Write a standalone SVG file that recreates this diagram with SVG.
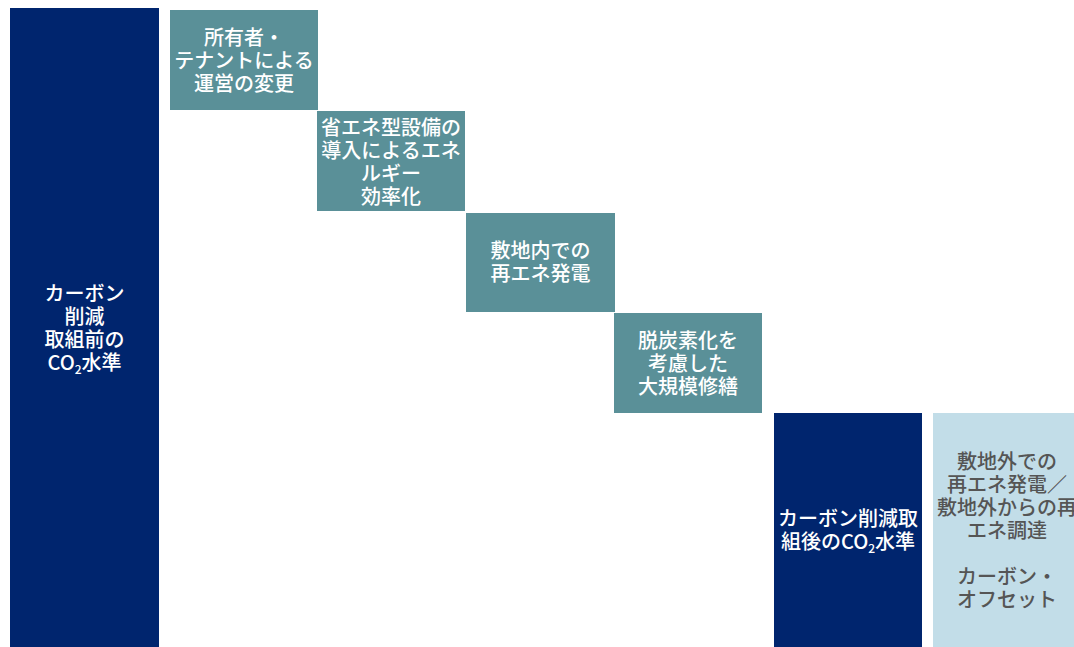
<svg xmlns="http://www.w3.org/2000/svg" width="1074" height="647" viewBox="0 0 1074 647">
<style>
.navy{fill:#00256e}
.teal{fill:#5a9098}
.light{fill:#c2dde8}
.t{font-family:"Noto Sans CJK JP","Noto Sans",sans-serif;font-size:20px;font-weight:500;text-anchor:middle}
.w{fill:#ffffff}
.g{fill:#555555}
.sub{font-size:12px}
</style>
<rect width="1074" height="647" fill="#ffffff"/>
<g id="before">
<rect class="navy" x="10" y="8" width="149" height="639"/>
<text class="t w"><tspan x="84.5" y="300.5">カーボン</tspan><tspan x="84.5" y="323.5">削減</tspan><tspan x="84.5" y="346.5">取組前の</tspan><tspan x="84.5" y="369.5">CO<tspan class="sub" dy="4">2</tspan><tspan dy="-4">水準</tspan></tspan></text>
</g>
<g id="step1">
<rect class="teal" x="170" y="10" width="148" height="100"/>
<text class="t w"><tspan x="244" y="44.5">所有者・</tspan><tspan x="244" y="67.5">テナントによる</tspan><tspan x="244" y="90.5">運営の変更</tspan></text>
</g>
<g id="step2">
<rect class="teal" x="317" y="111" width="148" height="100"/>
<text class="t w"><tspan x="391" y="134.5">省エネ型設備の</tspan><tspan x="391" y="157.5">導入によるエネ</tspan><tspan x="391" y="180.5">ルギー</tspan><tspan x="391" y="203.5">効率化</tspan></text>
</g>
<g id="step3">
<rect class="teal" x="466" y="213" width="149" height="99"/>
<text class="t w"><tspan x="540.5" y="257.5">敷地内での</tspan><tspan x="540.5" y="280.5">再エネ発電</tspan></text>
</g>
<g id="step4">
<rect class="teal" x="614" y="313" width="148" height="100"/>
<text class="t w"><tspan x="688" y="347.5">脱炭素化を</tspan><tspan x="688" y="370.5">考慮した</tspan><tspan x="688" y="393.5">大規模修繕</tspan></text>
</g>
<g id="after">
<rect class="navy" x="774" y="413" width="148" height="234"/>
<text class="t w"><tspan x="848" y="526">カーボン削減取</tspan><tspan x="848" y="549">組後のCO<tspan class="sub" dy="4">2</tspan><tspan dy="-4">水準</tspan></tspan></text>
</g>
<g id="offset">
<rect class="light" x="933" y="413" width="148" height="234"/>
<text class="t g"><tspan x="1007" y="468.5">敷地外での</tspan><tspan x="1007" y="491.5">再エネ発電／</tspan><tspan x="1007" y="514.5">敷地外からの再</tspan><tspan x="1007" y="537.5">エネ調達</tspan><tspan x="1007" y="583.5">カーボン・</tspan><tspan x="1007" y="606.5">オフセット</tspan></text>
</g>
<g id="connectors"></g>
</svg>
